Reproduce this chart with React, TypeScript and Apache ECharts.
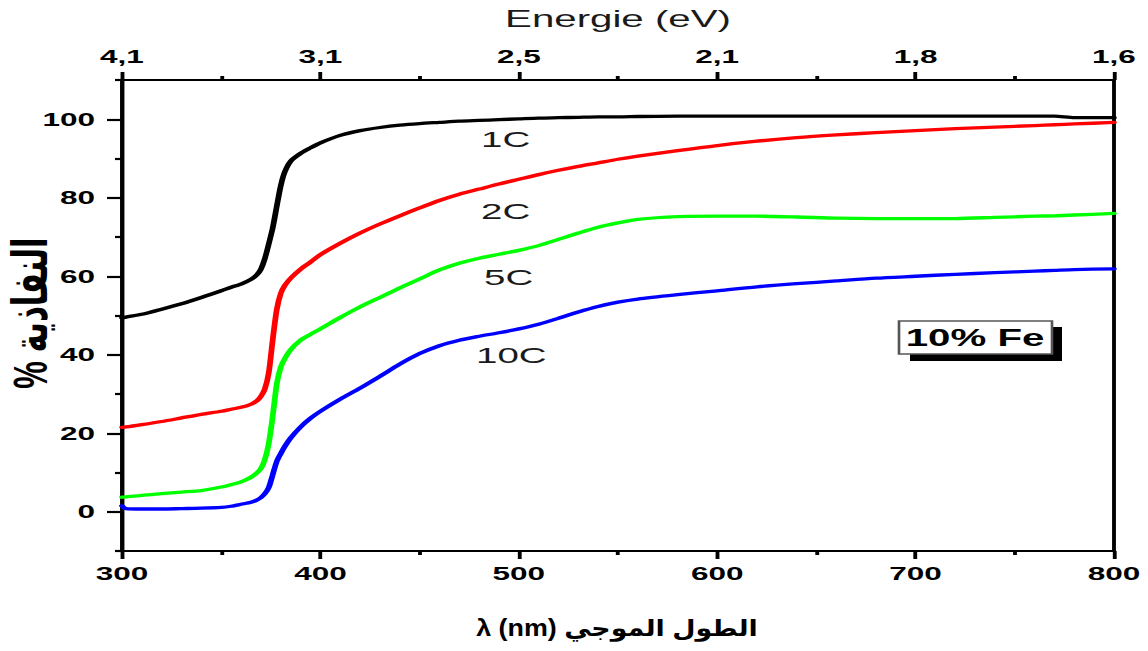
import React, { useEffect, useRef } from "react";
import * as echarts from "echarts";

// ---- data ----
const wavelength = [
  300, 302, 310, 320, 330, 340, 350, 355, 360, 365,
  368, 370, 372, 374, 376, 378, 380, 382, 385, 390,
  395, 400, 410, 420, 430, 440, 450, 460, 470, 480,
  490, 500, 510, 520, 530, 540, 550, 560, 580, 600,
  620, 640, 660, 680, 700, 720, 740, 760, 770, 780,
  800,
];
const t1C = [
  49.4, 49.6, 50.3, 51.6, 53.0, 54.6, 56.3, 57.2, 58.0, 59.2,
  60.4, 61.8, 64.5, 68.3, 72.4, 77.8, 83.0, 86.5, 89.3, 91.3,
  92.7, 94.0, 95.9, 97.1, 97.9, 98.5, 98.9, 99.2, 99.5, 99.7,
  99.9, 100.1, 100.3, 100.4, 100.5, 100.6, 100.6, 100.7, 100.8, 100.8,
  100.8, 100.8, 100.8, 100.8, 100.8, 100.8, 100.8, 100.8, 100.8, 100.4,
  100.4,
];
const t2C = [
  21.5, 21.6, 22.2, 23.0, 23.9, 24.8, 25.6, 26.1, 26.6, 27.4,
  28.3, 29.4, 31.3, 35.5, 44.0, 51.5, 55.6, 57.6, 59.5, 61.8,
  63.6, 65.5, 68.4, 71.0, 73.3, 75.4, 77.4, 79.3, 80.9, 82.2,
  83.5, 84.7, 85.9, 87.0, 88.0, 88.9, 89.8, 90.6, 92.0, 93.3,
  94.4, 95.3, 96.0, 96.6, 97.1, 97.6, 98.0, 98.4, 98.6, 98.8,
  99.2,
];
const t5C = [
  3.7, 3.8, 4.2, 4.6, 5.0, 5.4, 6.3, 6.9, 7.6, 8.8,
  9.9, 11.0, 13.3, 17.5, 24.5, 32.5, 36.8, 39.0, 41.3, 43.7,
  45.2, 46.6, 49.5, 52.2, 54.6, 57.0, 59.3, 61.6, 63.3, 64.6,
  65.6, 66.6, 67.8, 69.4, 71.0, 72.5, 73.6, 74.5, 75.2, 75.3,
  75.3, 75.1, 74.8, 74.7, 74.7, 74.7, 75.0, 75.3, 75.4, 75.6,
  76.0,
];
const t10C = [
  1.5, 0.8, 0.7, 0.7, 0.8, 0.9, 1.1, 1.4, 1.9, 2.4,
  3.0, 3.6, 4.6, 6.2, 9.5, 12.8, 14.8, 16.6, 18.8, 21.6,
  23.8, 25.6, 28.7, 31.5, 34.5, 37.6, 40.3, 42.3, 43.7, 44.7,
  45.6, 46.6, 47.8, 49.3, 50.9, 52.3, 53.4, 54.2, 55.3, 56.3,
  57.3, 58.1, 58.8, 59.5, 60.0, 60.5, 60.9, 61.3, 61.5, 61.7,
  61.9,
];
const seriesNames = ["1C", "2C", "5C", "10C"];
const seriesColors = ["#000000", "#ff0000", "#00ff00", "#0000ff"];
const seriesValues = [t1C, t2C, t5C, t10C];

const yMajorTicks = [0, 20, 40, 60, 80, 100];
const energyLabels: Record<number, string> = {
  300: "4,1",
  400: "3,1",
  500: "2,5",
  600: "2,1",
  700: "1,8",
  800: "1,6",
};

const xTitle = "λ (nm) الطول الموجي";
const yTitle = "% النفاذية";
const topTitle = "Energie (eV)";
const boxLabel = "10% Fe";

// ---- layout ----
const S = 1.75; // horizontal stretch of the reference figure
const W = 1148 / S;
const H = 651;
const px = (v: number) => v / S;
const FONT = "'Liberation Sans', Arial, 'DejaVu Sans', sans-serif";

const curveLabels = [
  { text: "1C", x: 481, y: 140 },
  { text: "2C", x: 481, y: 212 },
  { text: "5C", x: 484, y: 278 },
  { text: "10C", x: 476, y: 356 },
];

export default function App() {
  const ref = useRef<HTMLDivElement>(null);
  useEffect(() => {
    if (!ref.current) return;
    const chart = echarts.init(ref.current, null, { renderer: "svg" });
    const axisLineStyle = { color: "#000", width: 2.2 };
    const tickLabel = {
      color: "#000",
      fontFamily: FONT,
      fontWeight: "bold" as const,
      fontSize: 18,
    };
    const option: any = {
      animation: false,
      backgroundColor: "#fff",
      grid: {
        left: px(122),
        right: px(34),
        top: 80,
        bottom: 100,
        show: true,
        borderColor: "#000",
        borderWidth: 2.2,
        backgroundColor: "transparent",
      },
      xAxis: [
        {
          type: "value",
          position: "bottom",
          min: 300,
          max: 800,
          interval: 100,
          axisLine: { show: true, onZero: false, lineStyle: axisLineStyle },
          axisTick: { show: true, inside: false, length: 8, lineStyle: axisLineStyle },
          minorTick: { show: true, splitNumber: 2, length: 4, lineStyle: axisLineStyle },
          splitLine: { show: false },
          axisLabel: { ...tickLabel, margin: 14 },
        },
        {
          type: "value",
          position: "top",
          min: 300,
          max: 800,
          interval: 100,
          name: topTitle,
          nameLocation: "middle",
          nameGap: 50,
          nameTextStyle: { fontFamily: FONT, fontSize: 23, color: "#1a1a1a" },
          axisLine: { show: true, onZero: false, lineStyle: axisLineStyle },
          axisTick: { show: true, inside: false, length: 8, lineStyle: axisLineStyle },
          minorTick: { show: true, splitNumber: 2, length: 4, lineStyle: axisLineStyle },
          splitLine: { show: false },
          axisLabel: {
            ...tickLabel,
            margin: 14,
            formatter: (v: number) => energyLabels[v] ?? "",
          },
        },
      ],
      yAxis: [
        {
          type: "value",
          position: "left",
          min: -10,
          max: 110,
          axisLine: { show: true, onZero: false, lineStyle: axisLineStyle },
          axisTick: {
            show: true,
            inside: false,
            length: px(15),
            lineStyle: axisLineStyle,
            customValues: yMajorTicks,
          },
          splitLine: { show: false },
          axisLabel: { ...tickLabel, margin: px(27), customValues: yMajorTicks },
        },
        {
          type: "value",
          position: "left",
          min: -10,
          max: 110,
          interval: 20,
          axisLine: { show: false },
          axisTick: { show: true, inside: false, length: px(7), lineStyle: axisLineStyle },
          splitLine: { show: false },
          axisLabel: { show: false },
        },
      ],
      series: seriesNames.map((name, k) => ({
        name,
        type: "line",
        xAxisIndex: 0,
        yAxisIndex: 0,
        data: wavelength.map((w, i) => [w, seriesValues[k][i]]),
        showSymbol: false,
        smooth: 0.25,
        lineStyle: { color: seriesColors[k], width: 3.3, join: "round", cap: "round" },
        itemStyle: { color: seriesColors[k] },
        z: 3,
      })),
      graphic: [
        ...curveLabels.map((c) => ({
          type: "text",
          x: px(c.x),
          y: c.y,
          style: {
            text: c.text,
            fontFamily: FONT,
            fontSize: 22,
            fill: "#1a1a1a",
            align: "left",
            verticalAlign: "middle",
          },
        })),
        {
          type: "rect",
          shape: { x: px(910), y: 327, width: px(152), height: 34 },
          style: { fill: "#000" },
        },
        {
          type: "rect",
          shape: { x: px(899), y: 321, width: px(153), height: 33 },
          style: { fill: "#fff", stroke: "#555", lineWidth: 1.5 },
        },
        {
          type: "text",
          x: px(975),
          y: 338,
          style: {
            text: boxLabel,
            fontFamily: FONT,
            fontWeight: "bold",
            fontSize: 23,
            fill: "#000",
            align: "center",
            verticalAlign: "middle",
          },
        },
        {
          type: "text",
          x: px(617),
          y: 628,
          scaleX: 0.667,
          style: {
            text: xTitle,
            fontFamily: FONT,
            fontWeight: "bold",
            fontSize: 23,
            fill: "#000",
            align: "center",
            verticalAlign: "middle",
          },
        },
        {
          type: "text",
          x: px(30),
          y: 313,
          rotation: Math.PI / 2,
          scaleY: 0.9,
          style: {
            text: yTitle,
            fontFamily: FONT,
            fontWeight: "bold",
            fontSize: 31,
            fill: "#000",
            align: "center",
            verticalAlign: "middle",
          },
        },
      ],
    };
    chart.setOption(option);
    return () => chart.dispose();
  }, []);
  return (
    <div
      ref={ref}
      style={{
        position: "fixed",
        left: 0,
        top: 0,
        width: W,
        height: H,
        transform: `scaleX(${S})`,
        transformOrigin: "0 0",
        background: "#fff",
      }}
    />
  );
}
